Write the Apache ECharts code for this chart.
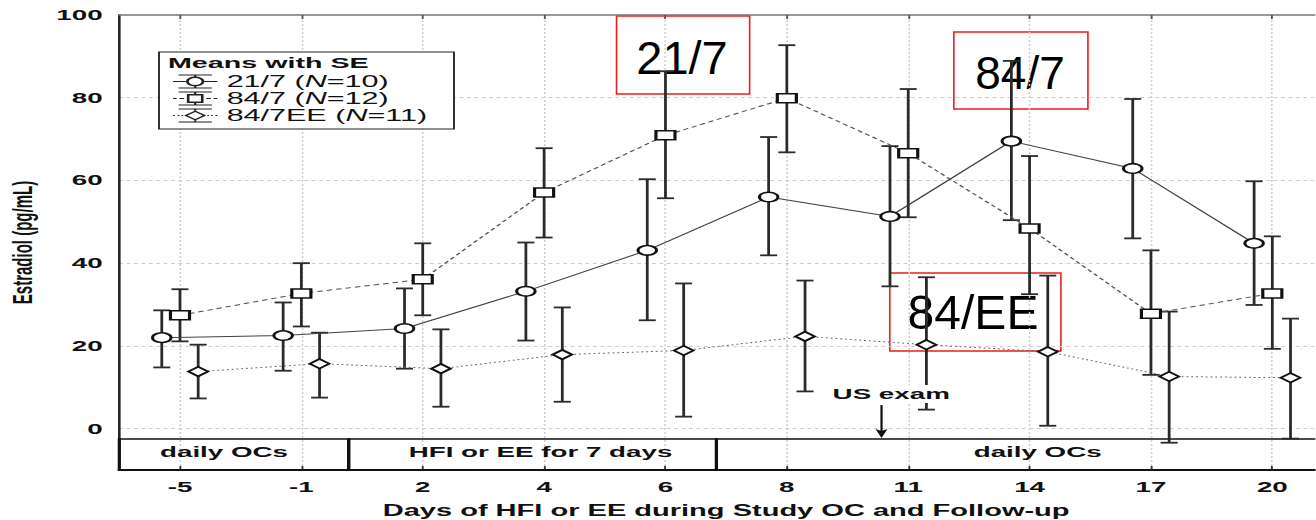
<!DOCTYPE html>
<html>
<head>
<meta charset="utf-8">
<style>
html,body{margin:0;padding:0;background:#fff;overflow:hidden}
#wrap{width:1316px;height:520px;overflow:hidden;position:relative;background:#fff}
#chart{height:520px;position:absolute;left:0;top:0;transform-origin:0 0}
</style>
<script src="https://cdn.jsdelivr.net/npm/echarts/dist/echarts.min.js"></script>
</head>
<body>
<div id="wrap"><div id="chart"></div></div>
<script>
// ---------------- DATA ----------------
const days = ['-5', '-1', '2', '4', '6', '8', '11', '14', '17', '20'];
const groupNames = ['21/7', '84/7', '84/7EE'];
const groupN = [10, 12, 11];

const mean_21_7  = [22.0, 22.5, 24.2, 33.2, 43.1, 56.0, 51.3, 69.5, 62.9, 44.8];
const upper_21_7 = [28.6, 30.5, 33.9, 45.0, 60.3, 70.5, 68.3, 88.9, 79.7, 59.8];
const lower_21_7 = [14.8, 14.0, 14.5, 21.3, 26.2, 41.9, 34.4, 50.4, 46.0, 29.9];

const mean_84_7  = [27.4, 32.7, 36.1, 57.1, 70.9, 79.9, 66.6, 48.4, 27.8, 32.7];
const upper_84_7 = [33.7, 40.0, 44.8, 67.8, 86.4, 92.7, 82.1, 65.9, 43.1, 46.5];
const lower_84_7 = [21.1, 24.7, 27.4, 46.2, 55.7, 66.8, 51.1, 32.5, 13.0, 19.3];

const mean_84_7EE  = [13.8, 15.7, 14.5, 17.9, 18.9, 22.3, 20.3, 18.6, 12.6, 12.3];
const upper_84_7EE = [20.3, 23.2, 24.0, 29.3, 35.1, 35.8, 36.6, 37.0, 28.3, 26.6];
const lower_84_7EE = [7.3, 7.5, 5.3, 6.5, 2.9, 9.0, 4.6, 0.7, -3.4, -2.4];

const yTickValues = [0, 20, 40, 60, 80, 100];
const phaseLabels = ['daily OCs', 'HFI or EE for 7 days', 'daily OCs'];
const phaseEdges = [-0.5, 1.39, 4.42, 9.5];   // in day-slot units
const usExamSlot = 5.78;                       // where the US exam arrow points
const usExamLabel = 'US exam';
const annotationLabels = ['21/7', '84/7', '84/EE'];

// ---------------- LAYOUT / STYLE ----------------
const S = 1.85;                 // horizontal stretch of the original figure
const W = 1316 / S;
const FONT = "'Liberation Sans', Arial, Helvetica, sans-serif";
const el = document.getElementById('chart');
el.style.width = W + 'px';
el.style.transform = 'scaleX(' + S + ')';

const chart = echarts.init(el, null, { renderer: 'svg', width: W, height: 520 });

const slotOffset = [-0.15, 0, 0.15];
const markerSymbol = ['circle', 'rect', 'diamond'];
const markerSize = [[10, 9.5], [10.3, 9], [10.5, 9.5]];
const lineTypes = ['solid', [3, 2.2], [1, 1.6]];
const lineColors = ['#444', '#555', '#666'];
const groups = [
  { mean: mean_21_7, hi: upper_21_7, lo: lower_21_7 },
  { mean: mean_84_7, hi: upper_84_7, lo: lower_84_7 },
  { mean: mean_84_7EE, hi: upper_84_7EE, lo: lower_84_7EE }
];

// legend icons (24 x 14 box)
const capsAndStems = (mTop, mBot) =>
  'M3 0H21V1H3Z M3 13H21V14H3Z M11.4 1H12.6V' + mTop + 'H11.4Z M11.4 ' + mBot + 'H12.6V13H11.4Z ';
const icons = [
  'path://' + capsAndStems(2, 12) +
    'M0 6.5H7V7.5H0Z M17 6.5H24V7.5H17Z ' +
    'M7 7A5 5 0 1 1 17 7A5 5 0 1 1 7 7Z M8.5 7A3.5 3.5 0 1 0 15.5 7A3.5 3.5 0 1 0 8.5 7Z',
  'path://' + capsAndStems(2.5, 11.5) +
    'M0 6.5H2V7.5H0Z M3.5 6.5H6V7.5H3.5Z M18 6.5H20.5V7.5H18Z M22 6.5H24V7.5H22Z ' +
    'M7.5 2.5H16.5V11.5H7.5Z M8.9 3.9V10.1H15.1V3.9Z',
  'path://' + capsAndStems(2, 12) +
    'M0 6.5H1V7.5H0Z M2.5 6.5H3.5V7.5H2.5Z M4.5 6.5H5.5V7.5H4.5Z M18.5 6.5H19.5V7.5H18.5Z M20.5 6.5H21.5V7.5H20.5Z M23 6.5H24V7.5H23Z ' +
    'M6 7L12 2L18 7L12 12Z M7.9 7L12 10.4L16.1 7L12 3.6Z'
];

function errorBarItem(params, api) {
  const x = api.value(0), lo = api.value(1), hi = api.value(2);
  const pLo = api.coord([x, lo]);
  const pHi = api.coord([x, hi]);
  const hw = 4.6;
  const cap = { stroke: '#2a2a2a', lineWidth: 1.8 };
  return {
    type: 'group',
    children: [
      { type: 'line', shape: { x1: pLo[0], y1: pLo[1], x2: pHi[0], y2: pHi[1] }, style: { stroke: '#2a2a2a', lineWidth: 1.5 } },
      { type: 'line', shape: { x1: pHi[0] - hw, y1: pHi[1], x2: pHi[0] + hw, y2: pHi[1] }, style: cap },
      { type: 'line', shape: { x1: pLo[0] - hw, y1: pLo[1], x2: pLo[0] + hw, y2: pLo[1] }, style: cap }
    ]
  };
}

const series = [];

// gridlines
series.push({
  type: 'line', name: 'gridlines', xAxisIndex: 1, yAxisIndex: 0, data: [], z: 0, silent: true,
  markLine: {
    z: 0, silent: true, symbol: ['none', 'none'], animation: false, label: { show: false },
    lineStyle: { color: '#cdcdcd', width: 0.8, type: [2, 2] },
    emphasis: { disabled: true },
    data: yTickValues.filter(v => v < 100).map(v => ({ yAxis: v }))
      .concat(days.map((d, i) => ({ xAxis: i })))
  }
});

// phase band
const phaseOffsets = [[-5.4, -3], [4.3, -3], [7, -3]];
series.push({
  type: 'line', name: 'phases', xAxisIndex: 1, yAxisIndex: 0, data: [], z: 1, silent: true,
  markArea: {
    z: 1, silent: true, animation: false,
    itemStyle: { color: 'rgba(0,0,0,0)', borderColor: '#111', borderWidth: 1.7 },
    label: { show: true, position: 'inside', fontSize: 15, fontWeight: 'bold', color: '#111', fontFamily: FONT },
    emphasis: { disabled: true },
    data: phaseLabels.map((t, k) => [
      { name: t, xAxis: phaseEdges[k], yAxis: -2.5, label: { offset: phaseOffsets[k] } },
      { xAxis: phaseEdges[k + 1], yAxis: -10 }
    ])
  }
});

groups.forEach((g, k) => {
  const off = slotOffset[k];
  series.push({
    type: 'custom', name: groupNames[k], xAxisIndex: 1, yAxisIndex: 0, z: 2, silent: true,
    renderItem: errorBarItem,
    encode: { x: 0, y: [1, 2] },
    data: g.mean.map((v, i) => [i + off, g.lo[i], g.hi[i]])
  });
  series.push({
    type: 'line', name: groupNames[k], xAxisIndex: 1, yAxisIndex: 0, z: 3,
    data: g.mean.map((v, i) => [i + off, v]),
    symbol: markerSymbol[k], symbolSize: markerSize[k], showSymbol: true,
    itemStyle: { color: '#fff', borderColor: '#111', borderWidth: 1.6 },
    lineStyle: { color: lineColors[k], width: 1, type: lineTypes[k] },
    emphasis: { disabled: true }, silent: true
  });
});

// US exam annotation
series.push({
  type: 'line', name: 'notes', xAxisIndex: 1, yAxisIndex: 0, data: [], z: 6, silent: true,
  markPoint: {
    z: 6, silent: true, animation: false,
    data: [
      {
        coord: [usExamSlot + 0.08, 8.4], symbol: 'circle', symbolSize: 0,
        label: {
          show: true, position: 'inside', formatter: usExamLabel, fontSize: 15, fontWeight: 'bold',
          color: '#111', fontFamily: FONT, backgroundColor: '#fff', padding: [2, 1, 1, 1]
        }
      },
      {
        coord: [usExamSlot, -1.2], symbol: 'path://M0 0L5 2.5L10 0L5 12Z', symbolSize: [6.5, 9],
        itemStyle: { color: '#111' }, label: { show: false }
      }
    ]
  },
  markLine: {
    z: 6, silent: true, animation: false, symbol: ['none', 'none'],
    label: { show: false },
    lineStyle: { color: '#111', width: 1.2, type: 'solid' },
    emphasis: { disabled: true },
    data: [[{ coord: [usExamSlot, 5.7] }, { coord: [usExamSlot, -1.0] }]]
  }
});

// red annotation boxes (drawn in un-stretched pixels)
const boxGeom = [
  { x: 616, y: 16, w: 133, h: 78, tx: 682, ty: 58, fs: 47 },
  { x: 953, y: 32, w: 134, h: 77, tx: 1020, ty: 73, fs: 46 },
  { x: 889, y: 273, w: 171, h: 78, tx: 973, ty: 313, fs: 48 }
];
const boxChildren = [];
annotationLabels.forEach((t, k) => {
  const b = boxGeom[k];
  boxChildren.push({ type: 'rect', shape: { x: b.x, y: b.y, width: b.w, height: b.h },
    style: { fill: 'none', stroke: '#ee1c1c', lineWidth: 1.6 } });
  boxChildren.push({ type: 'text', x: b.tx, y: b.ty,
    style: { text: t, fontSize: b.fs, fontFamily: FONT, fill: '#000', align: 'center', verticalAlign: 'middle' } });
});

const option = {
  animation: false,
  backgroundColor: '#fff',
  grid: { left: 119.3 / S, top: 15, width: (1333 - 119.3) / S, height: 455, containLabel: false, outerBoundsMode: 'none' },
  xAxis: [
    {
      type: 'category', gridIndex: 0, position: 'bottom', data: days, boundaryGap: true,
      axisLine: { show: true, onZero: false, lineStyle: { color: '#1a1a1a', width: 2 } },
      axisTick: { show: true, alignWithLabel: true, inside: true, length: 4, lineStyle: { color: '#333', width: 1 } },
      axisLabel: { fontSize: 15, fontWeight: 'bold', fontFamily: FONT, color: '#111', margin: 9 },
      splitLine: { show: false },
      name: 'Days of HFI or EE during Study OC and Follow-up', nameLocation: 'middle', nameGap: 33,
      nameTextStyle: { fontSize: 15.7, fontWeight: 'bold', fontFamily: FONT, color: '#111' }
    },
    { type: 'value', gridIndex: 0, min: -0.5, max: 9.5, show: false, axisLine: { onZero: false } },
    {
      type: 'category', gridIndex: 0, position: 'top', data: days, boundaryGap: true,
      axisLine: { show: true, onZero: false, lineStyle: { color: '#777', width: 1.5 } },
      axisTick: { show: true, alignWithLabel: true, inside: true, length: 4, lineStyle: { color: '#555', width: 1 } },
      axisLabel: { show: false }, splitLine: { show: false }
    }
  ],
  yAxis: {
    type: 'value', min: -10, max: 100, interval: 10,
    axisLine: { show: true, onZero: false, lineStyle: { color: '#222', width: 1.4 } },
    axisTick: { show: false }, splitLine: { show: false },
    axisLabel: {
      formatter: v => (yTickValues.indexOf(v) >= 0 ? String(v) : ''),
      fontSize: 15, fontWeight: 'bold', fontFamily: FONT, color: '#111', margin: 9
    },
    name: 'Estradiol (pg/mL)', nameLocation: 'middle', nameGap: 44,
    nameTextStyle: { fontSize: 15, fontWeight: 'bold', fontFamily: FONT, color: '#111' }
  },
  legend: {
    show: true, orient: 'vertical', left: 159 / S, top: 52, z: 8,
    padding: [21, 4, 5, (173 - 159) / S],
    itemWidth: 24, itemHeight: 14, itemGap: 0,
    borderWidth: 0, backgroundColor: 'rgba(0,0,0,0)',
    selectedMode: false,
    itemStyle: { color: '#222', borderWidth: 0, borderColor: 'rgba(0,0,0,0)' },
    data: groupNames.map((n, k) => ({ name: n, icon: icons[k],
      itemStyle: { color: '#222', borderWidth: 0, borderColor: 'rgba(0,0,0,0)' } })),
    formatter: name => {
      const k = groupNames.indexOf(name);
      return name + ' ({it|N}=' + groupN[k] + ')';
    },
    textStyle: {
      fontSize: 16.5, fontFamily: FONT, color: '#111',
      rich: { it: { fontStyle: 'italic', fontSize: 16.5, fontFamily: FONT, color: '#111' } }
    }
  },
  graphic: [
    { type: 'rect', z: 7, silent: true,
      shape: { x: 159 / S, y: 52, width: (454 - 159) / S, height: 77 },
      style: { fill: '#fff', stroke: '#222', lineWidth: 1 } },
    { type: 'text', x: 168 / S, y: 63, z: 110,
      style: { text: 'Means with SE', fontSize: 15.5, fontWeight: 'bold', fontFamily: FONT, fill: '#111', verticalAlign: 'middle' } },
    { type: 'group', x: 0, y: 0, scaleX: 1 / S, z: 120, children: boxChildren }
  ],
  series: series
};

chart.setOption(option);
</script>
</body>
</html>
